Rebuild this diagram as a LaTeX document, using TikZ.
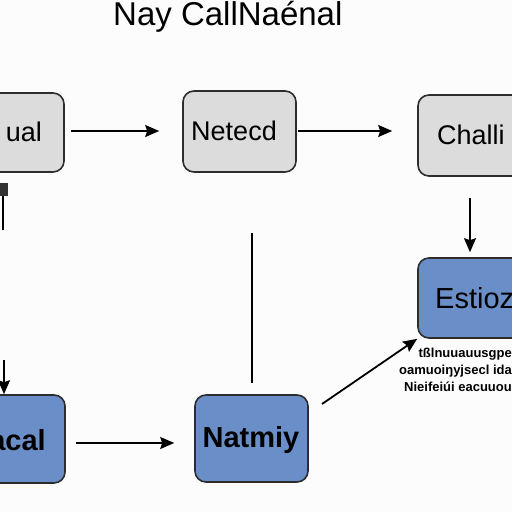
\documentclass[tikz,border=0pt]{standalone}
\usepackage{fontspec}
\setmainfont{Liberation Sans}
\usetikzlibrary{arrows.meta}
\definecolor{boxgray}{RGB}{220,220,220}
\definecolor{boxblue}{RGB}{106,143,200}
\definecolor{edge}{RGB}{45,45,45}
\begin{document}
\begin{tikzpicture}[x=1pt,y=-1pt,
  graybox/.style={draw=edge,line width=1.6pt,fill=boxgray,rounded corners=11pt,inner sep=0pt},
  bluebox/.style={draw=edge,line width=1.6pt,fill=boxblue,rounded corners=11pt,inner sep=0pt},
  lbl/.style={font=\fontsize{27}{27}\selectfont,inner sep=0pt},
  blbl/.style={font=\fontsize{29}{29}\selectfont\bfseries,inner sep=0pt},
  arr/.style={line width=1.8pt,-{Stealth[length=14pt,width=12pt,inset=2pt]}},
  ln/.style={line width=1.8pt}]
\fill[white!98!gray] (0,0) rectangle (512,512);
\useasboundingbox (0,0) rectangle (512,512);
\clip (0,0) rectangle (512,512);
% title
\node[font=\fontsize{33}{33}\selectfont,anchor=base west,inner sep=0pt] (title) at (113,25) {Nay CallNaénal};
% boxes
\node[graybox,minimum width=94pt,minimum height=79pt] (ual) at (17,132.5) {};
\node[lbl,anchor=east] (ualt) at (42,132) {ual};
\node[graybox,minimum width=113pt,minimum height=81pt] (net) at (239.5,131.5) {};
\node[lbl] (nett) at (234,131) {Netecd};
\node[graybox,minimum width=112pt,minimum height=81pt] (cha) at (474,135.5) {};
\node[lbl,anchor=west] (chat) at (437,135) {Challi};
\node[bluebox,minimum width=112pt,minimum height=80pt] (est) at (474,298) {};
\node[lbl,font=\fontsize{29}{29}\selectfont,anchor=west] (estt) at (435,298) {Estioz};
\node[bluebox,minimum width=95pt,minimum height=88pt] (ica) at (17.5,439) {};
\node[blbl,anchor=east] (icat) at (46,440) {acal};
\node[bluebox,minimum width=113pt,minimum height=87pt] (nat) at (251.5,438.5) {};
\node[blbl] (natt) at (251,440) {Natmiy};
% small text
\node[font=\fontsize{13}{17}\selectfont\bfseries,align=right,anchor=north east,inner sep=0pt] (small) at (512,348)
  {tßlnuuauusgpe\\oamuoiŋyjsecl ida\\Nieifeiúi eacuuou};
% connectors
\draw[arr,shorten <=6pt,shorten >=23pt] (ual.east |- 0,131) -- (net.west |- 0,131);
\draw[arr,shorten <=1pt,shorten >=25pt] (net.east |- 0,131) -- (cha.west |- 0,131);
\draw[arr,shorten <=21pt,shorten >=5pt] (cha.south -| 470,0) -- (est.north -| 470,0);
\coordinate (vtop) at (252,233);
\draw[ln,shorten >=11pt] (vtop) -- (nat.north -| 252,0);
\coordinate (dstart) at (322,404);
\draw[arr] (dstart) -- (est.south west);
\draw[arr,shorten <=10pt,shorten >=20pt] (ica.east |- 0,443) -- (nat.west |- 0,443);
% left fragments
\coordinate (lt) at (3,186);
\draw[ln] (lt) -- (3,230);
\fill[black!80] (0,183) rectangle (8,196);
\coordinate (lb) at (4,360);
\draw[arr] (lb) -- (ica.north -| 4,0);
\end{tikzpicture}
\end{document}
